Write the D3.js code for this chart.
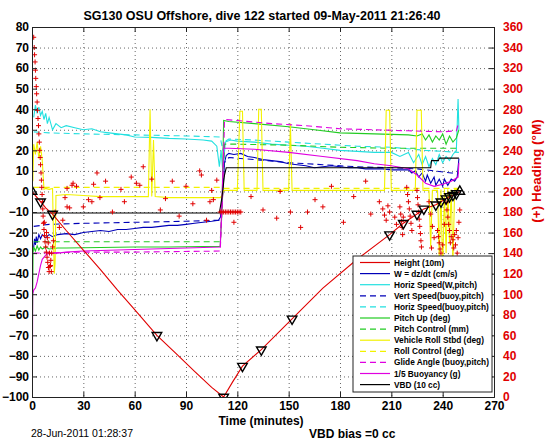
<!DOCTYPE html>
<html><head><meta charset="utf-8">
<script src="https://cdn.jsdelivr.net/npm/d3@7"></script>
<style>
body{margin:0;background:#fff}
svg{display:block}
text{font-family:"Liberation Sans",Arial,Helvetica,sans-serif}
</style>
</head><body>
<svg id="c" width="546" height="442"></svg>
<script>
// ---------- DATA ----------
const titleText = "SG130 OSU Offshore, dive 122 started 09-May-2011 21:26:40";
const xLabel = "Time (minutes)";
const yRightLabel = "(+) Heading (\u00B0M)";
const footerDate = "28-Jun-2011 01:28:37";
const footerVBD = "VBD bias =0 cc";
const xTicks = [0,30,60,90,120,150,180,210,240,270];
const yTicks = [-100,-90,-80,-70,-60,-50,-40,-30,-20,-10,0,10,20,30,40,50,60,70,80];
const yRightTicks = [0,20,40,60,80,100,120,140,160,180,200,220,240,260,280,300,320,340,360];
const legendLabels = ["Height (10m)","W = dz/dt (cm/s)","Horiz Speed(W,pitch)","Vert Speed(buoy,pitch)","Horiz Speed(buoy,pitch)","Pitch Up (deg)","Pitch Control (mm)","Vehicle Roll Stbd (deg)","Roll Control (deg)","Glide Angle (buoy,pitch)","1/5 Buoyancy (g)","VBD (10 cc)"];

const heightData = [[0,0],[2,-2],[5,-5],[8,-8],[12,-11],[20,-19],[30,-28.5],[40,-38],[50,-48],[60,-57.5],[73,-70],[85,-79.5],[95,-87.5],[105,-95.3],[112,-100],[117,-93],[123,-85],[134,-77],[152,-62],[170,-47],[190,-33],[209,-21],[217,-15.5],[225,-11],[229,-8.5],[236,-6.5],[239,-5],[242,-3.5],[244,-2.5],[246,-1.8],[248,-1],[250,0]];
const markerDownT = [5,12,73,112,123,134,152,209,217,225,229,236,239,242,244,246,248];
const markerDownV = [-5,-11,-70,-100,-85,-77,-62,-21,-15.5,-11,-8.5,-6.5,-5,-3.5,-2.5,-1.8,-1];
const markerUpT = [0,250];
const markerUpV = [0,0];

const wData = [[0.5,-28],[1,-27],[1.5,-23],[2,-26],[2.5,-22],[3,-25],[4,-21],[5,-23],[6,-21],[8,-22.5],[10,-21],[12,-22],[15,-21],[20,-20.5],[25,-21],[30,-20],[35,-19.5],[40,-19],[45,-19.5],[50,-18.5],[55,-18.5],[60,-18],[65,-17.5],[70,-17.5],[75,-17],[80,-16.5],[85,-16.5],[90,-16],[95,-15.5],[100,-15],[105,-14.5],[109,-14],[110.5,-12],[111.5,0],[112.5,14],[113.5,17.5],[115,18.5],[118,18],[122,18.5],[126,17],[130,16.5],[135,15.5],[140,15],[145,14.5],[150,13.5],[155,13],[160,12.5],[165,11.5],[170,12],[175,12.5],[180,12],[185,11.5],[190,11.5],[195,11],[200,11],[205,11],[210,10.5],[215,10.5],[220,10.5],[222,9],[224,10],[226,7],[228,9],[230,5],[231,8],[233,4],[235,7],[236,3],[238,6],[240,2.5],[241,6],[243,3],[245,6],[247,5],[248.5,7],[249.5,16]];
const vertBuoyData = [[1,-17],[10,-16],[30,-15.5],[60,-15],[90,-14.5],[110,-14],[111.5,0],[112.5,14],[115,16.5],[130,15.5],[150,14],[170,13],[190,12],[210,11.5],[225,11],[235,10],[245,9],[249.5,9]];
const horizData = [[1,36],[2,42],[3,38],[4,41],[5,37],[6,39],[7,35],[8,38],[9,33],[10,36],[12,30],[14,33],[17,31],[20,32],[25,31],[30,30],[35,30.5],[40,29],[45,28.5],[50,28],[55,27.5],[60,26.5],[70,26.3],[80,25.8],[90,25.5],[100,25],[105,24.5],[108,22],[109.5,12],[110.5,20],[111.5,10],[113,24],[116,25],[120,24.5],[130,24],[140,23],[150,22.5],[160,22],[170,21],[180,20],[190,19.5],[200,19],[210,19],[215,17],[220,19],[223,14],[226,18],[228,13],[230,17],[232,12],[234,16],[236,13],[238,18],[240,14],[242,17],[244,15],[246,18],[248,20],[249,45],[249.5,30]];
const horizBuoyData = [[1,29],[10,28.5],[30,28],[60,27.5],[90,27],[110,26.5],[111.5,20],[112.5,24],[115,25.5],[130,25],[150,24],[170,23],[190,22],[210,21.5],[230,20],[249.5,19]];
const pitchData = [[0.3,-60],[0.6,-30],[1,-27],[2,-29],[3,-26.5],[4,-28.5],[5,-27],[6,-28],[8,-27],[10,-28],[15,-27.5],[20,-27.5],[40,-27.3],[60,-27],[80,-27],[100,-26.8],[110,-26.8],[111,-10],[112,34.5],[115,34],[130,33],[150,31.5],[165,30],[180,28.5],[200,28],[220,27.5],[225,27],[228,28],[230,25],[232,27.5],[234,24],[236,27],[238,25],[240,28],[242,23],[244,27],[246,24],[248,26],[249.5,30]];
const pitchCtlData = [[1,-24.5],[110,-24.5],[111.5,0],[112.5,23],[120,23],[150,22.5],[180,21.5],[210,21],[249.5,21]];
const rollData = [[0.5,5],[1,23],[2,18],[3,24],[4,16],[5,22],[6,15],[7,1],[8,1.5],[10,1],[12,1.5],[13,-40],[13.5,-35],[14,-2],[20,-1.5],[30,-2],[40,-2.5],[50,-2.5],[60,-2.5],[68,-2.5],[69,40],[70,-2.5],[71,25],[72,-2.5],[80,-3],[90,-3],[100,-3],[108,-3],[110,-3],[111,-2],[112,0.5],[120,0.5],[121.5,39],[123,39],[124,0.5],[131.5,0.5],[132.5,40],[134,40],[135,0.5],[150,0.5],[151,33],[152,0.5],[206,0.5],[207,39.5],[209,39.5],[210,0.5],[224,0.5],[225,39.5],[227.5,39.5],[228.5,0.5],[232,0.5],[233,-27],[234,0.5],[237,0.5],[238,-32],[239,1],[240,-40],[241,1],[242,-30],[243,1],[244,-25],[245,1],[246,-35],[247,1],[249.5,1]];
const rollCtlData = [[1,2],[110,2],[112,1.5],[249.5,1.5]];
const glideData = [[1,-30],[30,-29.5],[60,-29.5],[110,-29],[111.5,0],[112.5,35],[120,34.5],[140,33],[160,32],[180,30.5],[200,30],[220,29.5],[240,29],[248,29.5],[249.5,34]];
const buoyData = [[0,90],[0.15,-110],[0.4,-50],[1,-48],[2,-47],[3,-44],[4,-40],[5,-36],[6,-33],[8,-31],[10,-30],[15,-30],[20,-29.5],[30,-29],[50,-28.5],[70,-28],[90,-27.5],[110,-27],[111,-5],[112,21],[115,21],[130,20.5],[150,19],[170,17],[190,15],[200,13.5],[210,12.5],[220,11],[225,8],[230,4],[235,2.5],[240,3.5],[245,5],[249,7],[249.5,14]];
const vbdData = [[0.5,-10.5],[109.5,-10.5],[111,-3],[112.5,8],[113.5,11.5],[233,11.5],[233.5,15],[237.5,15],[238,16.2],[249.5,16.2]];

const headingT = [1.0,1.3,1.5,1.8,2.0,2.2,2.5,2.7,3.0,3.2,3.5,3.8,4.0,4.3,4.5,4.8,5.0,5.3,5.5,5.7,5.9,6.1,6.3,6.5,6.7,7.0,7.3,7.6,8.0,8.4,8.8,9.2,9.6,10.0,10.5,11.0,11.5,12,8.5,9.0,9.5,10.2,10.8,11.3,7.2,12.5,
 13.5,16,18,19.3,20.5,20.5,22,23.4,24,26,30,33,35,36,38,39.7,43,47,52,54,58,61,63,65,70,75,78,82,86,90,94,98,99,102,104,106,105,108,
 110,111,112,113,114,115,116,117,118,119,120,121,122,118,128,135,143,145,151,157,161,165.4,170,175,182,188,195,198,
 203,205,206,207,208,209,212,213,215,215.5,216,216.3,216.6,217,219,219.5,220,220.5,221,221.5,222,225,225.3,225.6,226,226.3,226.6,227,227.3,227.6,232,233,234,235,233.5,237,237.5,238,238.5,239,240,241,242,242.5,243,243.5,244,245,246,247,248,249,244.5,246.5,248.5,245.5,247.5,243,249.5,250];
const headingV = [350,340,333,326,318,310,302,295,287,279,271,264,256,248,240,233,226,218,211,204,197,190,183,176,169,163,157,151,146,141,136,131,126,122,127,133,140,146,160,155,150,140,128,122,170,152,
 180,165,172,194,203,185,184,206,208,205,185,192,190,207,218,194,210,180,202,190,214,208,206,224,212,182,193,210,176,205,188,220,216,172,190,192,201,211,
 180,180,180,180,180,180,180,180,180,180,180,180,180,170,195,182,174,200,180,165,180,192,185,205,170,195,210,178,
 190,183,177,172,186,180,175,168,185,178,171,165,158,175,204,197,190,183,176,169,162,201,194,187,180,173,166,159,152,146,190,178,166,155,145,162,156,150,144,140,148,168,189,182,175,168,162,156,153,158,162,155,150,145,140,135,148,130,170,182];

// ---------- LAYOUT ----------
const svg = d3.select("#c");
const L = 32, R = 494, T = 27, B = 397;
const x = d3.scaleLinear().domain([0,270]).range([L,R]);
const y = d3.scaleLinear().domain([-100,80]).range([B,T]);
const yR = d3.scaleLinear().domain([0,360]).range([B,T]);
const FONT = '"Liberation Sans",Arial,Helvetica,sans-serif';

svg.append("rect").attr("width",546).attr("height",442).attr("fill","#fff");

// grid
const grid = svg.append("g").attr("stroke","#404040").attr("stroke-width",0.8).attr("stroke-dasharray","1,3");
grid.selectAll("line.v").data(xTicks.slice(1,-1)).join("line")
  .attr("x1",d=>x(d)+0.5).attr("x2",d=>x(d)+0.5).attr("y1",T).attr("y2",B);
grid.selectAll("line.h").data(yTicks.slice(1,-1)).join("line")
  .attr("x1",L).attr("x2",R).attr("y1",d=>y(d)+0.5).attr("y2",d=>y(d)+0.5);

// clip
svg.append("clipPath").attr("id","clip").append("rect").attr("x",L).attr("y",T).attr("width",R-L).attr("height",B-T);
const plot = svg.append("g").attr("clip-path","url(#clip)");

const line = d3.line().x(d=>x(d[0])).y(d=>y(d[1]));
const series = [
  {d:heightData, c:"#e00000", dash:null},
  {d:wData, c:"#0000b8", dash:null},
  {d:horizData, c:"#22e0e0", dash:null},
  {d:vertBuoyData, c:"#0000b8", dash:"6,4"},
  {d:horizBuoyData, c:"#22e0e0", dash:"6,4"},
  {d:pitchData, c:"#22cc22", dash:null},
  {d:pitchCtlData, c:"#22cc22", dash:"6,4"},
  {d:rollData, c:"#f2f200", dash:null},
  {d:rollCtlData, c:"#f2f200", dash:"6,4"},
  {d:glideData, c:"#e000e0", dash:"6,4"},
  {d:buoyData, c:"#e000e0", dash:null},
  {d:vbdData, c:"#000000", dash:null}
];
[1,2,3,4,5,6,7,8,9,10,11,0].forEach(i=>{
  const s = series[i];
  plot.append("path").datum(s.d).attr("d",line).attr("fill","none")
    .attr("stroke",s.c).attr("stroke-width",1.1)
    .attr("stroke-dasharray",s.dash);
});

// heading points (+)
const hp = headingT.map((t,i)=>[t,headingV[i]]);
plot.append("g").selectAll("path").data(hp).join("path")
  .attr("d","M-2.5,0H2.5M0,-2.5V2.5")
  .attr("transform",d=>`translate(${x(d[0])},${yR(d[1])})`)
  .attr("stroke","#e00000").attr("stroke-width",1);

// triangle markers on height
const tri = d3.symbol().type(d3.symbolTriangle).size(40);
plot.append("g").selectAll("path").data(markerDownT.map((t,i)=>[t,markerDownV[i]])).join("path")
  .attr("d",tri).attr("transform",d=>`translate(${x(d[0])},${y(d[1])}) rotate(180)`)
  .attr("fill","none").attr("stroke","#000").attr("stroke-width",1.4);
plot.append("g").selectAll("path").data(markerUpT.map((t,i)=>[t,markerUpV[i]])).join("path")
  .attr("d",tri).attr("transform",d=>`translate(${x(d[0])},${y(d[1])})`)
  .attr("fill","none").attr("stroke","#000").attr("stroke-width",1.4);

// axes
const axL = d3.axisLeft(y).tickValues(yTicks).tickSize(-5).tickPadding(3);
const gL = svg.append("g").attr("transform",`translate(${L},0)`).call(axL);
const axR = d3.axisRight(yR).tickValues(yRightTicks).tickSize(-5).tickPadding(9);
const gR = svg.append("g").attr("transform",`translate(${R},0)`).call(axR);
const axB = d3.axisBottom(x).tickValues(xTicks).tickSize(-5).tickPadding(4);
const gB = svg.append("g").attr("transform",`translate(0,${B})`).call(axB);
const axT = d3.axisTop(x).tickValues(xTicks).tickSize(-5).tickFormat("");
const gT = svg.append("g").attr("transform",`translate(0,${T})`).call(axT);
[gL,gR,gB,gT].forEach(g=>{
  g.selectAll(".domain").attr("stroke","#222").attr("stroke-width",1);
  g.selectAll(".tick line").attr("stroke","#222");
  g.selectAll("text").attr("font-family",FONT).attr("font-size",12).attr("font-weight","bold").attr("fill","#000");
});
gR.selectAll("text").attr("fill","#e00000");
gB.selectAll("text").attr("dy","0.71em");

// legend
const lg = svg.append("g");
const LX = 353, LY = 256, LW = 139, LH = 136;
lg.append("rect").attr("x",LX).attr("y",LY).attr("width",LW).attr("height",LH)
  .attr("fill","#fff").attr("stroke","#222").attr("stroke-width",1);
legendLabels.forEach((lab,i)=>{
  const yy = LY + 6.5 + i*11.1;
  const s = series[i];
  lg.append("line").attr("x1",360).attr("x2",390).attr("y1",yy).attr("y2",yy)
    .attr("stroke",s.c).attr("stroke-width",1.2).attr("stroke-dasharray",s.dash);
  lg.append("text").attr("x",394).attr("y",yy+3).text(lab)
    .attr("font-family",FONT).attr("font-size",8.3).attr("font-weight","bold").attr("fill","#000");
});

// texts
svg.append("text").attr("x",262).attr("y",20).attr("text-anchor","middle").text(titleText)
  .attr("font-size",12.5).attr("font-weight","bold").attr("fill","#000");
svg.append("text").attr("x",261).attr("y",425).attr("text-anchor","middle").text(xLabel)
  .attr("font-size",12).attr("font-weight","bold").attr("fill","#000");
svg.append("text").attr("transform","translate(541,171) rotate(-90)").attr("text-anchor","middle").text(yRightLabel)
  .attr("font-size",13.5).attr("font-weight","bold").attr("fill","#e00000");
svg.append("text").attr("x",31).attr("y",437).text(footerDate)
  .attr("font-size",10.5).attr("fill","#000");
svg.append("text").attr("x",309).attr("y",438).text(footerVBD)
  .attr("font-size",12).attr("font-weight","bold").attr("fill","#000");
</script>
</body></html>
